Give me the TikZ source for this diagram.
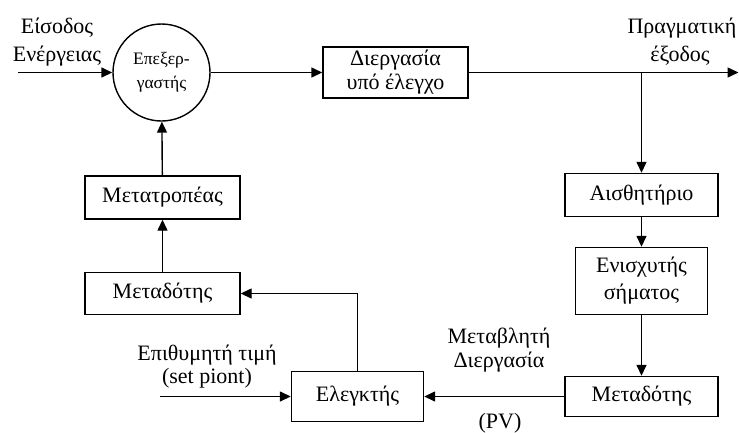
\documentclass[tikz,border=0pt]{standalone}
\usepackage{fontspec}
\setmainfont{Liberation Serif}
\usetikzlibrary{arrows.meta}
\begin{document}
\begin{tikzpicture}[x=1pt,y=-1pt,
  block/.style={draw, line width=1.4pt, align=center, inner sep=0pt,
    font=\fontsize{22}{24}\selectfont},
  flow/.style={line width=1.4pt, -{Triangle[length=11pt,width=10pt]}},
  lbl/.style={anchor=base, inner sep=0pt, font=\fontsize{22}{24}\selectfont}]
\useasboundingbox (0,0) rectangle (739,432);

% processing unit
\node[draw, circle, line width=1.4pt, minimum size=97pt, inner sep=0pt, align=center,
  font=\fontsize{17.5}{24}\selectfont] (cpu) at (161.5,72.5) {Επεξερ-\\γαστής};

% blocks
\node[block, minimum width=145pt, minimum height=51pt] (proc) at (395.5,72.5) {Διεργασία\\υπό έλεγχο};
\node[block, minimum width=153pt, minimum height=43pt] (sens) at (641.5,195) {Αισθητήριο};
\node[block, minimum width=132pt, minimum height=67pt, font=\fontsize{22}{27}\selectfont] (amp) at (641.5,281) {Ενισχυτής\\σήματος};
\node[block, minimum width=153pt, minimum height=40pt] (trR) at (641.5,396.5) {Μεταδότης};
\node[block, minimum width=132pt, minimum height=50pt] (ctrl) at (357.5,396.5) {Ελεγκτής};
\node[block, minimum width=155pt, minimum height=42pt] (trL) at (162.5,293.5) {Μεταδότης};
\node[block, minimum width=155pt, minimum height=43pt] (conv) at (162.5,197.5) {Μετατροπέας};

% free ends
\coordinate (inS) at (18,72.5);
\coordinate (outE) at (738.5,72.5);
\coordinate (branch) at (641.5,72.5);
\coordinate (spS) at (160,396.5);

% labels
\node[lbl] (inA) at (57,33) {Είσοδος};
\node[lbl] (inB) at (57,61) {Ενέργειας};
\node[lbl] (outA) at (682,33) {Πραγματική};
\node[lbl] (outB) at (680,61) {έξοδος};
\node[lbl] (spA) at (207,360) {Επιθυμητή τιμή};
\node[lbl] (spB) at (207,383) {(set piont)};
\node[lbl] (pvA) at (499,343) {Μεταβλητή};
\node[lbl] (pvB) at (499,367) {Διεργασία};
\node[lbl] (pvC) at (500,428) {(PV)};

% connectors
\draw[flow] (inS) -- (cpu.west);
\draw[flow] (cpu.east) -- (proc.west);
\draw[flow] (proc.east) -- (outE);
\draw[flow] (branch) -- (sens.north);
\draw[flow] (sens) -- (amp);
\draw[flow] (amp) -- (trR);
\draw[flow] (trR) -- (ctrl);
\draw[flow] (spS) -- (ctrl.west);
\draw[flow] (ctrl.north) |- (trL.east);
\draw[flow] (trL) -- (conv);
\draw[flow] (conv) -- (cpu);
\end{tikzpicture}
\end{document}
